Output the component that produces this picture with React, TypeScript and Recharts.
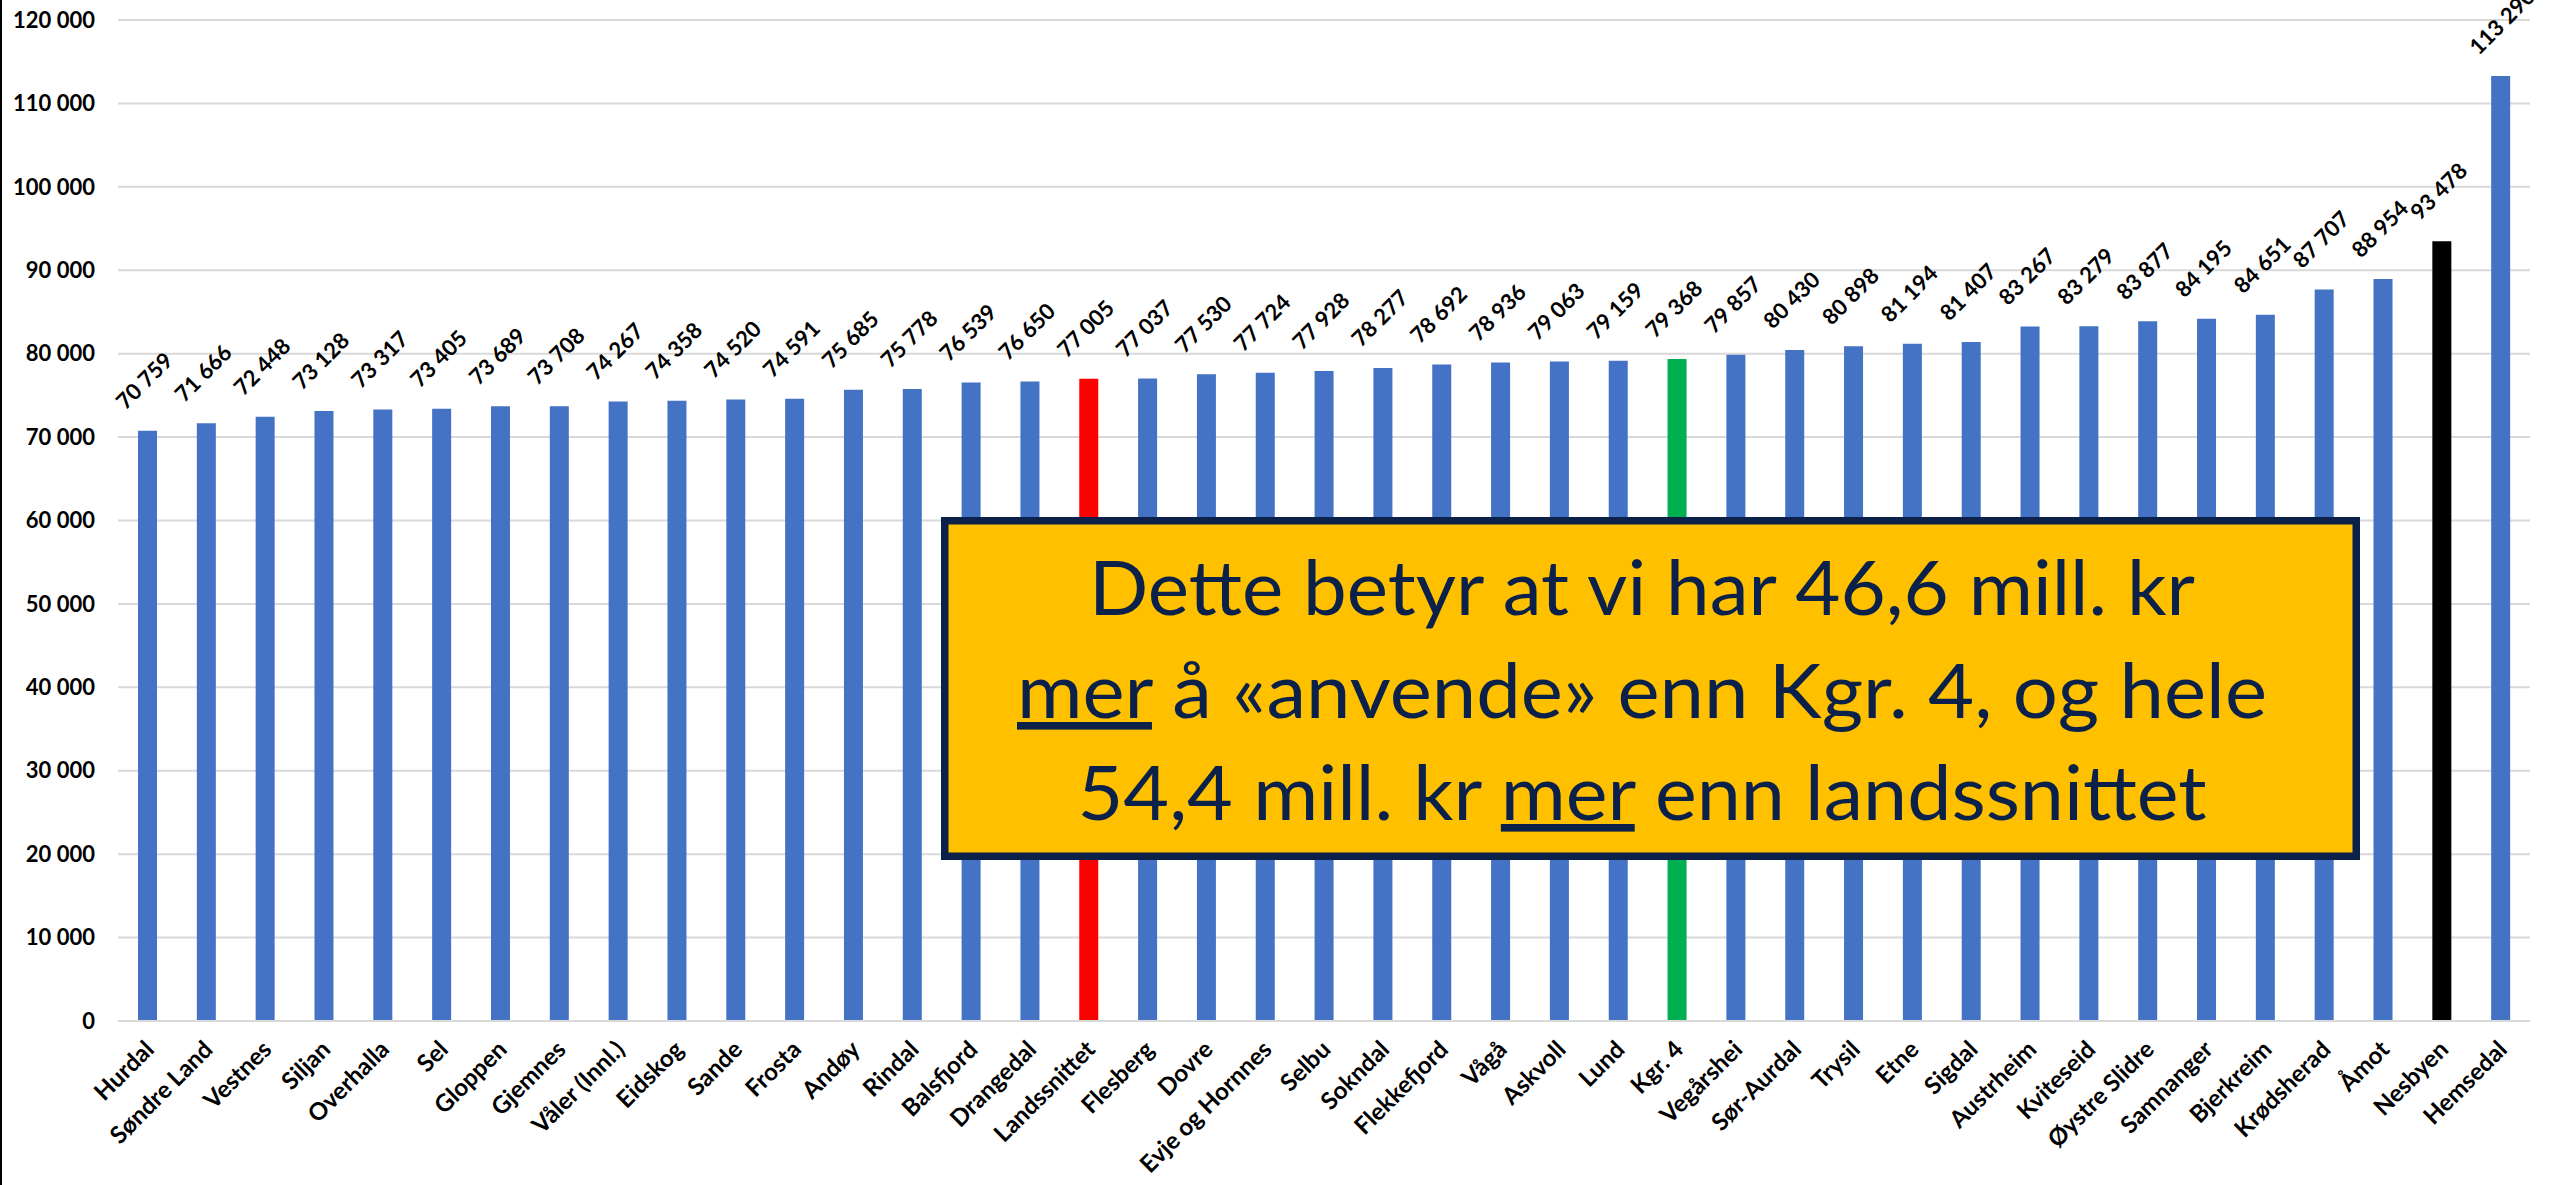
import { BarChart, Bar, XAxis, YAxis, CartesianGrid, Cell, LabelList } from "recharts";

const kommuner = [
  "Hurdal", "Søndre Land", "Vestnes", "Siljan", "Overhalla", "Sel", "Gloppen", "Gjemnes",
  "Våler (Innl.)", "Eidskog", "Sande", "Frosta", "Andøy", "Rindal", "Balsfjord", "Drangedal",
  "Landssnittet", "Flesberg", "Dovre", "Evje og Hornnes", "Selbu", "Sokndal", "Flekkefjord",
  "Vågå", "Askvoll", "Lund", "Kgr. 4", "Vegårshei", "Sør-Aurdal", "Trysil", "Etne", "Sigdal",
  "Austrheim", "Kviteseid", "Øystre Slidre", "Samnanger", "Bjerkreim", "Krødsherad", "Åmot",
  "Nesbyen", "Hemsedal",
];

const utgifter = [
  70759, 71666, 72448, 73128, 73317, 73405, 73689, 73708,
  74267, 74358, 74520, 74591, 75685, 75778, 76539, 76650,
  77005, 77037, 77530, 77724, 77928, 78277, 78692,
  78936, 79063, 79159, 79368, 79857, 80430, 80898, 81194, 81407,
  83267, 83279, 83877, 84195, 84651, 87707, 88954,
  93478, 113290,
];

const yTicks = [0, 10000, 20000, 30000, 40000, 50000, 60000, 70000, 80000, 90000, 100000, 110000, 120000];

// spesialfarger for sammenligningsstolpene
const highlight: Record<string, string> = {
  Landssnittet: "#FF0000",
  "Kgr. 4": "#00B050",
  Nesbyen: "#000000",
};

const boxLine1: [string, boolean][] = [["Dette betyr at vi har 46,6 mill. kr", false]];
const boxLine2: [string, boolean][] = [["mer", true], [" å «anvende» enn Kgr. 4, og hele", false]];
const boxLine3: [string, boolean][] = [["54,4 mill. kr ", false], ["mer", true], [" enn landssnittet", false]];

const data = kommuner.map((name, i) => ({ name, value: utgifter[i] }));

const FONT = "Lato, 'Open Sans', 'DejaVu Sans', sans-serif";
const NAVY = "#0B2149";

const fmt = (v: number) => {
  const s = String(Math.round(v));
  return s.replace(/\B(?=(\d{3})+(?!\d))/g, " ");
};

const YTick = (props: any) => {
  const { y, payload } = props;
  return (
    <text x={95} y={y} dy="0.35em" textAnchor="end" fontFamily={FONT} fontWeight={700} fontSize={22} fill="#000">
      {fmt(payload.value)}
    </text>
  );
};

const XTick = (props: any) => {
  const { x, payload } = props;
  const ex = x + 8;
  const ey = 1051;
  return (
    <text
      x={ex}
      y={ey}
      textAnchor="end"
      transform={`rotate(-45, ${ex}, ${ey})`}
      fontFamily={FONT}
      fontWeight={700}
      fontSize={24}
      fill="#000"
    >
      {payload.value}
    </text>
  );
};

const ValueLabel = (props: any) => {
  const { x, y, width, value } = props;
  const sx = x + width / 2 - 22;
  const sy = y - 20;
  return (
    <text
      x={sx}
      y={sy}
      textAnchor="start"
      transform={`rotate(-45, ${sx}, ${sy})`}
      fontFamily={FONT}
      fontWeight={700}
      fontSize={22}
      fill="#000"
    >
      {fmt(value)}
    </text>
  );
};

const BoxLine = ({ parts, y, len }: { parts: [string, boolean][]; y: number; len: number }) => (
  <text
    x={1642}
    y={y}
    textAnchor="middle"
    textLength={len}
    lengthAdjust="spacingAndGlyphs"
    fontFamily={FONT}
    fontWeight={400}
    fontSize={76}
    fill={NAVY}
  >
    {parts.map(([t, u], i) => (
      <tspan key={i} style={u ? { textDecoration: "underline" } : undefined}>
        {t}
      </tspan>
    ))}
  </text>
);

export default function App() {
  return (
    <div style={{ position: "absolute", left: 0, top: 0, width: 2552, height: 1185, background: "#fff" }}>
      <BarChart
        width={2552}
        height={1185}
        data={data}
        margin={{ top: 20, right: 22, left: 0, bottom: 0 }}
        barCategoryGap={0}
      >
        <CartesianGrid vertical={false} stroke="#d9d9d9" strokeWidth={2} />
        <XAxis
          dataKey="name"
          height={164}
          interval={0}
          tickLine={false}
          axisLine={{ stroke: "#d9d9d9", strokeWidth: 2 }}
          tick={<XTick />}
        />
        <YAxis
          width={118}
          domain={[0, 120000]}
          ticks={yTicks}
          axisLine={false}
          tickLine={false}
          tick={<YTick />}
        />
        <Bar dataKey="value" barSize={19} isAnimationActive={false}>
          {data.map((d) => (
            <Cell key={d.name} fill={highlight[d.name] ?? "#4472C4"} />
          ))}
          <LabelList dataKey="value" content={<ValueLabel />} />
        </Bar>
      </BarChart>

      <svg width={2552} height={1185} style={{ position: "absolute", left: 0, top: 0, pointerEvents: "none" }}>
        <line x1={1} y1={0} x2={1} y2={1185} stroke="#000" strokeWidth={2} />
        <rect x={944.75} y={520.75} width={1411.5} height={335.5} fill="#FFC000" stroke={NAVY} strokeWidth={7.5} />
        <BoxLine parts={boxLine1} y={615} len={1106} />
        <BoxLine parts={boxLine2} y={718} len={1250} />
        <BoxLine parts={boxLine3} y={820} len={1129} />
      </svg>
    </div>
  );
}
